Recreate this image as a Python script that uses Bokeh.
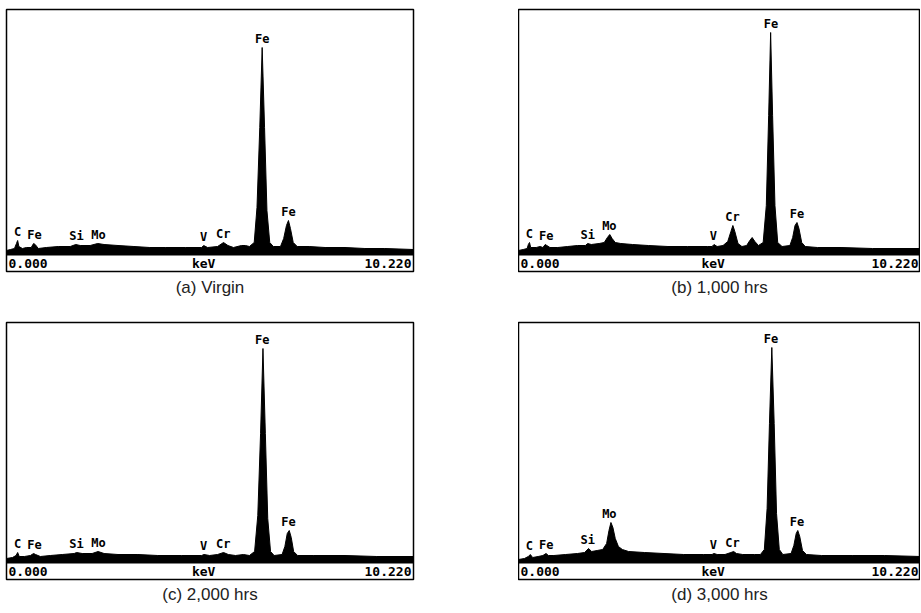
import numpy as np
from bokeh.plotting import figure
from bokeh.layouts import row, column
from bokeh.models import Title, Range1d, ColumnDataSource
from bokeh.core.properties import value
from bokeh.embed import file_html
from bokeh.resources import INLINE

# ---------------- data ----------------
X_MIN, X_MAX = 0.000, 10.220
axis_texts = ["0.000", "keV", "10.220"]
captions = ["(a) Virgin", "(b) 1,000 hrs", "(c) 2,000 hrs", "(d) 3,000 hrs"]

element_names = ["C", "Fe", "Si", "Mo", "V", "Cr", "Fe", "Fe"]
element_kev = [0.277, 0.705, 1.760, 2.310, 4.952, 5.440, 6.420, 7.080]

# (a) Virgin
kev_a = [0.00, 0.10, 0.20, 0.25, 0.28, 0.31, 0.40, 0.50, 0.62, 0.68, 0.72, 0.80,
         1.00, 1.30, 1.60, 1.74, 1.85, 2.10, 2.29, 2.45, 2.80, 3.20, 3.60, 4.00,
         4.50, 4.90, 4.95, 5.05, 5.30, 5.45, 5.56, 5.70, 5.90, 6.00, 6.10, 6.22,
         6.29, 6.36, 6.42, 6.48, 6.54, 6.61, 6.70, 6.88, 6.96, 7.03, 7.08, 7.13,
         7.20, 7.30, 7.60, 8.00, 8.50, 9.00, 9.50, 10.22]
cts_a = [5, 6, 7, 12, 15, 9, 7, 8, 8, 12, 11, 7,
         8, 9, 9, 11, 10, 10, 12, 11, 10, 9, 8, 8,
         8, 8, 10, 8, 9, 13, 10, 8, 10, 10, 9, 13,
         48, 128, 208, 128, 45, 13, 9, 9, 17, 30, 35, 27,
         13, 9, 9, 8, 8, 7, 7, 6]

# (b) 1,000 hrs
kev_b = [0.00, 0.12, 0.22, 0.25, 0.28, 0.31, 0.45, 0.55, 0.62, 0.68, 0.72, 0.80,
         1.00, 1.25, 1.50, 1.70, 1.76, 1.85, 2.05, 2.18, 2.26, 2.32, 2.38, 2.46,
         2.60, 2.90, 3.30, 3.80, 4.30, 4.80, 4.92, 4.97, 5.05, 5.20, 5.32, 5.40,
         5.45, 5.50, 5.58, 5.68, 5.80, 5.88, 5.94, 6.01, 6.10, 6.22, 6.30, 6.36,
         6.41, 6.46, 6.52, 6.59, 6.70, 6.90, 6.97, 7.03, 7.08, 7.13, 7.20, 7.29,
         7.60, 8.20, 9.00, 10.22]
cts_b = [5, 6, 7, 11, 13, 8, 8, 9, 8, 11, 10, 8,
         8, 9, 10, 10, 12, 11, 12, 13, 18, 21, 17, 13,
         12, 11, 10, 9, 9, 9, 9, 11, 9, 10, 14, 24,
         30, 24, 12, 9, 10, 15, 18, 14, 10, 13, 50, 140,
         223, 140, 50, 13, 9, 10, 18, 30, 33, 27, 13, 9,
         8, 8, 7, 7]

# (c) 2,000 hrs
kev_c = [0.00, 0.15, 0.24, 0.28, 0.32, 0.45, 0.60, 0.68, 0.73, 0.85, 1.10, 1.40,
         1.70, 1.76, 1.90, 2.15, 2.30, 2.45, 2.80, 3.30, 3.80, 4.40, 4.90, 4.96,
         5.10, 5.30, 5.45, 5.57, 5.75, 5.95, 6.10, 6.23, 6.31, 6.38, 6.44, 6.50,
         6.56, 6.63, 6.72, 6.92, 6.99, 7.05, 7.10, 7.15, 7.21, 7.31, 7.70, 8.50,
         9.30, 10.22]
cts_c = [5, 6, 8, 11, 7, 7, 8, 10, 9, 7, 8, 9,
         10, 11, 10, 10, 12, 10, 9, 9, 8, 8, 8, 9,
         8, 9, 11, 9, 8, 9, 8, 12, 48, 130, 215, 130,
         45, 12, 8, 9, 17, 30, 33, 26, 12, 8, 8, 8,
         7, 7]

# (d) 3,000 hrs
kev_d = [0.00, 0.15, 0.25, 0.30, 0.36, 0.50, 0.62, 0.70, 0.76, 0.90, 1.20, 1.50,
         1.68, 1.78, 1.86, 2.00, 2.14, 2.24, 2.30, 2.35, 2.40, 2.46, 2.54, 2.64,
         2.80, 3.20, 3.70, 4.20, 4.70, 4.92, 4.97, 5.05, 5.25, 5.40, 5.47, 5.54,
         5.70, 6.00, 6.15, 6.25, 6.32, 6.38, 6.44, 6.50, 6.56, 6.63, 6.72, 6.93,
         7.00, 7.06, 7.10, 7.15, 7.22, 7.32, 7.70, 8.50, 9.30, 10.22]
cts_d = [4, 5, 7, 9, 6, 7, 8, 10, 8, 8, 9, 10,
         11, 15, 12, 13, 14, 20, 33, 41, 36, 25, 17, 14,
         12, 11, 10, 9, 9, 9, 10, 9, 9, 11, 12, 10,
         9, 9, 9, 14, 55, 140, 216, 140, 50, 14, 9, 10,
         18, 30, 33, 27, 13, 9, 8, 8, 8, 7]

spectra = [(kev_a, cts_a), (kev_b, cts_b), (kev_c, cts_c), (kev_d, cts_d)]
y_tops = [246, 246, 241, 241]
STRIP = -16

MONO = value("DejaVu Sans Mono")
SANS = "Liberation Sans"


def label_height(e, kev, cts):
    k = np.asarray(kev)
    c = np.asarray(cts)
    near = c[np.abs(k - e) <= 0.07]
    base = float(np.interp(e, kev, cts))
    return max([base] + list(near))


def panel(i, frame_w, left_border, right_border, top_border, bottom_border, standoff):
    kev, cts = spectra[i]
    ytop = y_tops[i]
    frame_h = ytop - STRIP
    p = figure(frame_width=frame_w, frame_height=frame_h,
               x_range=Range1d(X_MIN, X_MAX), y_range=Range1d(STRIP, ytop),
               x_axis_location=None, y_axis_location=None,
               toolbar_location=None, output_backend="svg",
               min_border_left=left_border, min_border_right=right_border,
               min_border_top=top_border, min_border_bottom=bottom_border,
               background_fill_color="white", border_fill_color="white")
    p.grid.visible = False
    p.outline_line_color = "black"
    p.outline_line_width = 1.5

    p.varea(x=kev, y1=0, y2=cts, fill_color="black")
    p.line(x=kev, y=cts, line_color="black", line_width=1)

    # element labels sit just above the spectrum at each line energy
    ly = [label_height(e, kev, cts) + 2 for e in element_kev]
    src = ColumnDataSource(dict(x=element_kev, y=ly, t=element_names))
    p.text(x="x", y="y", text="t", source=src, text_font=MONO,
           text_font_style="bold", text_font_size="12px", text_color="black",
           text_align="center", text_baseline="bottom")

    # energy strip texts
    p.text(x=[X_MIN], y=[STRIP / 2], text=[axis_texts[0]], text_font=MONO,
           text_font_style="bold", text_font_size="13px", text_align="left",
           text_baseline="middle", x_offset=2, text_color="black")
    p.text(x=[4.95], y=[STRIP / 2], text=[axis_texts[1]], text_font=MONO,
           text_font_style="bold", text_font_size="13px", text_align="center",
           text_baseline="middle", text_color="black")
    p.text(x=[X_MAX], y=[STRIP / 2], text=[axis_texts[2]], text_font=MONO,
           text_font_style="bold", text_font_size="13px", text_align="right",
           text_baseline="middle", x_offset=-2, text_color="black")

    p.add_layout(Title(text=captions[i], align="center", text_font=SANS,
                       text_font_size="17px", text_font_style="normal",
                       text_color="#222222", standoff=standoff), "below")
    return p


pa = panel(0, 407, 6, 105, 9, 42, 9)
pb = panel(1, 402, 0, 0, 9, 42, 9)
pc = panel(2, 407, 6, 105, 9, 25, 7)
pd = panel(3, 402, 0, 0, 9, 25, 7)

layout = column(row(pa, pb), row(pc, pd))

open("out.html", "w").write(file_html(layout, INLINE))
